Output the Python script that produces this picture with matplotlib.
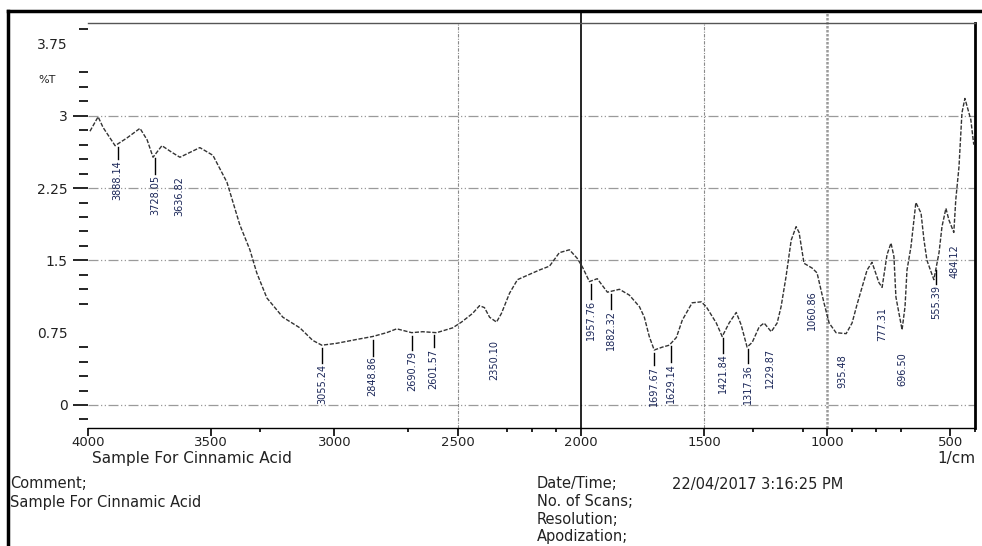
import matplotlib
matplotlib.use("Agg")
import matplotlib.pyplot as plt
from matplotlib.lines import Line2D
import numpy as np

# spectrum: wavenumber (1/cm) and %T
wavenumber = [3992, 3959, 3939, 3890, 3842, 3789, 3760, 3736, 3700, 3659, 3627,
              3546, 3493, 3436, 3384, 3343, 3315, 3274, 3209, 3140, 3088, 3051,
              2990, 2909, 2845, 2788, 2747, 2686, 2642, 2585, 2520, 2484, 2439,
              2411, 2391, 2370, 2342, 2322, 2289, 2257, 2168, 2127, 2087, 2046,
              2014, 1993, 1965, 1933, 1892, 1843, 1803, 1762, 1742, 1722, 1702,
              1669, 1641, 1612, 1588, 1548, 1511, 1491, 1450, 1426, 1398, 1369,
              1349, 1325, 1304, 1276, 1256, 1227, 1203, 1187, 1167, 1146, 1126,
              1114, 1094, 1061, 1041, 1013, 992, 964, 923, 899, 879, 838, 818,
              790, 777, 757, 741, 729, 721, 696, 684, 676, 660, 640, 619, 607,
              595, 567, 546, 534, 518, 506, 486, 478, 465, 453, 441, 417, 405]
transmittance = [2.84, 2.99, 2.88, 2.69, 2.77, 2.87, 2.75, 2.57, 2.69, 2.62, 2.57,
                 2.67, 2.59, 2.31, 1.87, 1.61, 1.37, 1.11, 0.91, 0.80, 0.67, 0.62,
                 0.64, 0.68, 0.71, 0.75, 0.79, 0.75, 0.76, 0.75, 0.80, 0.86, 0.95,
                 1.03, 1.01, 0.91, 0.86, 0.95, 1.16, 1.30, 1.40, 1.44, 1.58, 1.61,
                 1.52, 1.43, 1.28, 1.31, 1.17, 1.20, 1.14, 1.02, 0.91, 0.71, 0.57,
                 0.60, 0.62, 0.70, 0.88, 1.06, 1.07, 1.02, 0.85, 0.71, 0.85, 0.96,
                 0.83, 0.60, 0.65, 0.81, 0.85, 0.76, 0.85, 1.02, 1.33, 1.71, 1.85,
                 1.79, 1.47, 1.42, 1.37, 1.06, 0.85, 0.75, 0.74, 0.85, 1.04, 1.40, 1.48,
                 1.27, 1.22, 1.56, 1.68, 1.54, 1.12, 0.78, 1.02, 1.40, 1.64, 2.10, 1.99, 1.71,
                 1.50, 1.30, 1.58, 1.85, 2.04, 1.92, 1.79, 2.13, 2.47, 3.03, 3.18, 2.96, 2.70]

# peak labels
peak_labels = ["3888.14", "3728.05", "3636.82", "3055.24", "2848.86", "2690.79",
               "2601.57", "2350.10", "1957.76", "1882.32", "1697.67", "1629.14",
               "1421.84", "1317.36", "1229.87", "1060.86", "935.48", "777.31",
               "696.50", "555.39", "484.12"]
peak_pos = [3880, 3728, 3630, 3051, 2845, 2683, 2597, 2350, 1957, 1876, 1702, 1633,
            1422, 1322, 1231, 1061, 940, 777, 696, 557, 484]
# layout of the labels: drop below the curve (pixels) and whether a leader is drawn
label_drop = [16, 20, 19, 19, 20, 18, 16, 19, 19, 19, 16, 20, 19, 18, 17, 22, 21, 20, 22, 18, 20]
has_leader = [1, 1, 0, 1, 1, 1, 1, 0, 1, 1, 1, 1, 1, 1, 0, 0, 0, 0, 0, 1, 0]

y_ticks = [0, 0.75, 1.5, 2.25, 3, 3.75]
y_ticklabels = ["0", "0.75", "1.5", "2.25", "3", "3.75"]
x_ticks = [4000, 3500, 3000, 2500, 2000, 1500, 1000, 500]
x_minor = [3300, 2700, 2300, 2200, 2100, 1300, 1100, 900, 800, 700, 400]

W, H = 982, 546
fig = plt.figure(figsize=(W / 100, H / 100), dpi=100)
ax = fig.add_axes([88 / W, 1 - 428 / H, 887 / W, 405.3 / H])
ax.set_xlim(4000, 405)
ax.set_ylim(-0.239, 3.966)

txt = "#222222"

# grid
for v in [0, 1.5, 2.25, 3]:
    ax.axhline(v, color="#9a9a9a", lw=0.9, dashes=(8, 2, 1, 2, 1, 2), zorder=1)
for v in [2500, 1500]:
    ax.axvline(v, color="#8a8a8a", lw=0.8, dashes=(3, 1.2, 1, 1.2), zorder=1)
ax.axvline(1000, color="#9a9a9a", lw=1.8, dashes=(1, 0.6), zorder=1,
           ymin=0, ymax=1.03, clip_on=False)
ax.axvline(2000, color="black", lw=1.2, zorder=1, ymin=0, ymax=1.03, clip_on=False)

ax.plot(wavenumber, transmittance, color="#333333", lw=1.0, dashes=(3, 1.2), zorder=3)

# peak annotations
for lab, pos, drop, lead in zip(peak_labels, peak_pos, label_drop, has_leader):
    yv = np.interp(pos, wavenumber[::-1], transmittance[::-1])
    ax.annotate(lab, (pos, yv), xytext=(0, -drop), textcoords="offset pixels",
                rotation=90, ha="center", va="top", fontsize=7,
                family=["Liberation Sans Narrow", "DejaVu Sans"], color="#1a2658",
                zorder=4)
    if lead:
        y0 = ax.transData.transform((pos, yv))
        p1 = ax.transData.inverted().transform((y0[0], y0[1] - 3))
        p2 = ax.transData.inverted().transform((y0[0], y0[1] - drop + 1))
        ax.plot([pos, pos], [p1[1], p2[1]], color="black", lw=1.0, zorder=4)

# spines
ax.spines["left"].set_visible(False)
ax.spines["top"].set_color("#555555")
ax.spines["top"].set_linewidth(1.0)
ax.spines["right"].set_linewidth(2.0)
ax.spines["bottom"].set_linewidth(1.0)

# ticks
ax.set_yticks(y_ticks)
ax.set_yticklabels(y_ticklabels)
ax.set_yticks([round(0.15 * i, 2) for i in range(-1, 27)
               if round(0.15 * i, 2) not in (0, 0.75, 0.9, 1.5, 2.25, 3, 3.6, 3.75)],
              minor=True)
ax.tick_params(axis="y", which="major", length=11, width=1.2, direction="out",
               pad=3.5, labelsize=10, labelcolor=txt)
ax.tick_params(axis="y", which="minor", length=6.5, width=1.2, direction="out")
for t in ax.yaxis.get_major_ticks():
    if t.get_loc() in (0.75, 3.75):
        t.tick1line.set_visible(False)

ax.set_xticks(x_ticks)
ax.set_xticklabels([str(v) for v in x_ticks])
ax.set_xticks(x_minor, minor=True)
ax.tick_params(axis="x", which="major", length=5.5, width=1.2, direction="out",
               pad=0, labelsize=9.5, labelcolor=txt)
ax.tick_params(axis="x", which="minor", length=3, width=1.2, direction="out")

fig.text(38 / W, 1 - 80 / H, "%T", fontsize=8, color=txt, va="center")
fig.text(92 / W, 1 - 451 / H, "Sample For Cinnamic Acid", fontsize=11, color=txt, va="top")
fig.text(975 / W, 1 - 451 / H, "1/cm", fontsize=11, color=txt, va="top", ha="right")

fig.text(10 / W, 1 - 484 / H, "Comment;", fontsize=10.5, color=txt, va="center")
fig.text(10 / W, 1 - 503 / H, "Sample For Cinnamic Acid", fontsize=10.5, color=txt, va="center")
fig.text(537 / W, 1 - 484 / H, "Date/Time;", fontsize=10.5, color=txt, va="center")
fig.text(672 / W, 1 - 484 / H, "22/04/2017 3:16:25 PM", fontsize=10.5, color=txt, va="center")
fig.text(537 / W, 1 - 502 / H, "No. of Scans;", fontsize=10.5, color=txt, va="center")
fig.text(537 / W, 1 - 520 / H, "Resolution;", fontsize=10.5, color=txt, va="center")
fig.text(537 / W, 1 - 537 / H, "Apodization;", fontsize=10.5, color=txt, va="center")

# outer frame
fig.add_artist(Line2D([8 / W, 1], [1 - 11 / H] * 2, lw=2.5, color="black",
                      transform=fig.transFigure))
fig.add_artist(Line2D([8 / W] * 2, [0, 1 - 11 / H], lw=2.5, color="black",
                      transform=fig.transFigure))

fig.savefig("out.png", dpi=100)
